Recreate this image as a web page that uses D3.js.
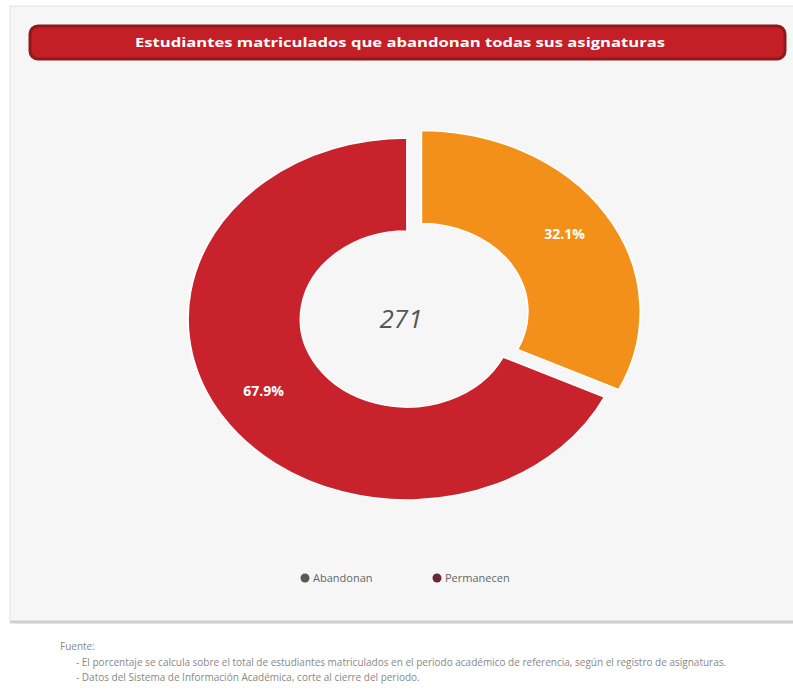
<!DOCTYPE html>
<html>
<head>
  <meta charset="utf-8">
  <title>Donut</title>
  <script src="https://d3js.org/d3.v7.min.js"></script>
  <style>
    body { margin: 0; background: #fff; }
  </style>
</head>
<body>
<svg width="793" height="696"></svg>
<script>
  const categories = ["Abandonan", "Permanecen"];
  const counts = [87, 184];
  const colors = ["#f39019", "#c8232c"];
  const legendMarks = ["#5e5650", "#6e2535"];
  const titleText = "Estudiantes matriculados que abandonan todas sus asignaturas";
  const notes = [
    "Fuente:",
    "- El porcentaje se calcula sobre el total de estudiantes matriculados en el periodo académico de referencia, según el registro de asignaturas.",
    "- Datos del Sistema de Información Académica, corte al cierre del periodo."
  ];

  const data = categories.map((c, i) => ({ name: c, value: counts[i], color: colors[i] }));
  const total = d3.sum(counts);

  const svg = d3.select("svg");
  const font = "'Open Sans', 'Noto Sans', sans-serif";

  // panel
  svg.append("rect").attr("x", 10).attr("y", 6).attr("width", 790).attr("height", 616)
    .attr("fill", "#f6f6f6").attr("stroke", "#e2e2e2");
  svg.append("line").attr("x1", 10).attr("x2", 793).attr("y1", 622).attr("y2", 622)
    .attr("stroke", "#cfcfcf").attr("stroke-width", 3);

  // title bar
  svg.append("rect").attr("x", 30).attr("y", 26).attr("width", 755).attr("height", 33)
    .attr("rx", 8).attr("fill", "#c41e26").attr("stroke", "#8e1a1c").attr("stroke-width", 3);
  svg.append("text").attr("x", 400).attr("y", 47).attr("text-anchor", "middle")
    .attr("fill", "#fff").attr("font-family", font).attr("font-weight", "bold")
    .attr("font-size", 13).attr("textLength", 530).attr("lengthAdjust", "spacingAndGlyphs")
    .text(titleText);

  // donut (picture is stretched horizontally)
  const cx = 407, cy = 319, sx = 1.21;
  const rOuter = 181, rInner = 88, explode = 14;

  const pie = d3.pie().value(d => d.value).sort(null);
  const arc = d3.arc().innerRadius(rInner).outerRadius(rOuter);
  const labelArc = d3.arc().innerRadius(140).outerRadius(140);
  const arcs = pie(data);

  const g = svg.append("g").attr("transform", `translate(${cx},${cy}) scale(${sx},1)`);
  g.selectAll("path").data(arcs).enter().append("path")
    .attr("d", arc)
    .attr("fill", d => d.data.color)
    .attr("stroke", "#fff").attr("stroke-width", 1.5)
    .attr("transform", (d, i) => {
      if (i !== 0) return null;
      const a = (d.startAngle + d.endAngle) / 2;
      return `translate(${Math.sin(a) * explode},${-Math.cos(a) * explode})`;
    });

  // labels
  arcs.forEach((d, i) => {
    const c = labelArc.centroid(d);
    const a = (d.startAngle + d.endAngle) / 2;
    const off = i === 0 ? explode : 0;
    const x = cx + (c[0] + Math.sin(a) * off) * sx;
    const y = cy + c[1] - Math.cos(a) * off;
    svg.append("text").attr("x", x).attr("y", y + 2).attr("text-anchor", "middle")
      .attr("fill", "#fff").attr("font-family", font).attr("font-weight", "bold")
      .attr("font-size", 14)
      .text(d3.format(".1f")(d.data.value / total * 100) + "%");
  });

  svg.append("text").attr("x", cx - 6).attr("y", cy + 9).attr("text-anchor", "middle")
    .attr("fill", "#555").attr("font-family", font).attr("font-style", "italic")
    .attr("font-size", 26).text(total);

  // legend
  const legendX = [305, 437];
  categories.forEach((c, i) => {
    svg.append("circle").attr("cx", legendX[i]).attr("cy", 578).attr("r", 4.5)
      .attr("fill", legendMarks[i]);
    svg.append("text").attr("x", legendX[i] + 8).attr("y", 582)
      .attr("fill", "#666").attr("font-family", font).attr("font-size", 11).text(c);
  });

  // notes
  svg.append("text").attr("x", 60).attr("y", 650).attr("fill", "#888")
    .attr("font-family", font).attr("font-size", 10).text(notes[0]);
  notes.slice(1).forEach((t, i) => {
    svg.append("text").attr("x", 76).attr("y", 666 + i * 15).attr("fill", "#888")
      .attr("font-family", font).attr("font-size", 10).text(t);
  });
</script>
</body>
</html>
